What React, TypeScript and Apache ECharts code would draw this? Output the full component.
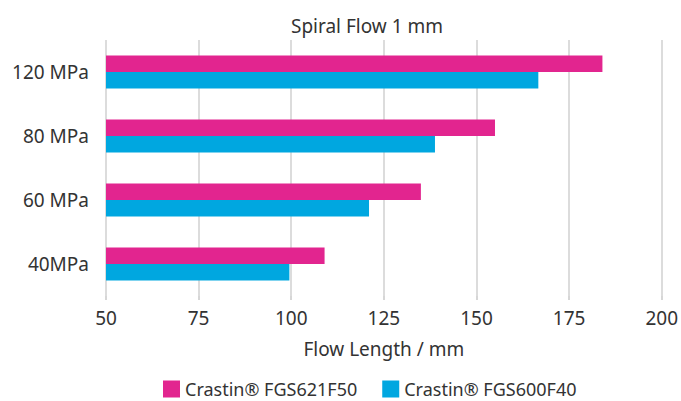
import React, { useEffect, useRef } from "react";
import * as echarts from "echarts";

const categories = ["40MPa", "60 MPa", "80 MPa", "120 MPa"];
const seriesNames = ["Crastin® FGS621F50", "Crastin® FGS600F40"];
const fgs621 = [109, 135, 155, 184];
const fgs600 = [99.5, 121, 138.8, 166.7];
const xTicks = { min: 50, max: 200, interval: 25 };

const FONT = "'Noto Sans', sans-serif";
const TEXT = "#333333";

export default function App() {
  const ref = useRef<HTMLDivElement>(null);
  useEffect(() => {
    if (!ref.current) return;
    const chart = echarts.init(ref.current, undefined, { renderer: "svg" });
    chart.setOption({
      animation: false,
      textStyle: { fontFamily: FONT, color: TEXT },
      title: {
        text: "Spiral Flow 1 mm",
        left: 362,
        textAlign: "center",
        top: 11,
        textStyle: { fontFamily: FONT, fontSize: 19, fontWeight: "normal", color: TEXT },
      },
      legend: {
        data: seriesNames,
        top: 375,
        left: 158,
        itemWidth: 17,
        itemHeight: 17,
        itemGap: 25,
        icon: "rect",
        textStyle: { fontFamily: FONT, fontSize: 18, color: TEXT },
      },
      grid: { left: 106, right: 19, top: 40, bottom: 105, containLabel: false },
      xAxis: {
        type: "value",
        min: xTicks.min,
        max: xTicks.max,
        interval: xTicks.interval,
        name: "Flow Length / mm",
        nameLocation: "middle",
        nameGap: 43,
        nameTextStyle: { fontFamily: FONT, fontSize: 19, color: TEXT },
        axisLine: { show: false },
        axisTick: { show: true, length: 4, lineStyle: { color: "#c8c8c8", width: 1.5 } },
        axisLabel: { fontFamily: FONT, fontSize: 19, color: TEXT, margin: 12 },
        splitLine: { show: true, lineStyle: { color: "#d0d0d0", width: 1.5 } },
      },
      yAxis: {
        type: "category",
        data: categories,
        axisLine: { show: false },
        axisTick: { show: false },
        axisLabel: { fontFamily: FONT, fontSize: 19, color: TEXT, margin: 17 },
        splitLine: { show: false },
      },
      series: [
        {
          name: seriesNames[0],
          type: "bar",
          data: fgs621,
          barWidth: 16.5,
          barGap: "0%",
          itemStyle: { color: "#E2258F" },
          z: 2,
        },
        {
          name: seriesNames[1],
          type: "bar",
          data: fgs600,
          barWidth: 16.5,
          barGap: "0%",
          itemStyle: { color: "#00A7E0" },
          z: 2,
        },
      ],
    });
    return () => chart.dispose();
  }, []);
  return (
    <div
      ref={ref}
      style={{ position: "absolute", left: 0, top: 0, width: 681, height: 401 }}
    />
  );
}
